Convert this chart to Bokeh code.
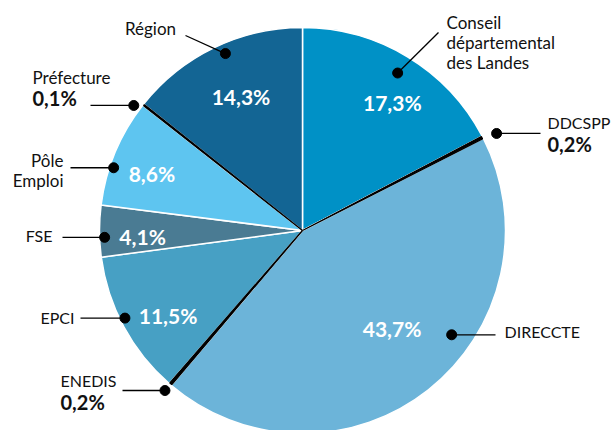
import math
from bokeh.plotting import figure
from bokeh.models import Range1d, ColumnDataSource
from bokeh.embed import file_html
from bokeh.resources import INLINE
from bokeh.core.properties import value

# ---- data ----
names = ["Conseil départemental des Landes", "DDCSPP", "DIRECCTE", "ENEDIS",
         "EPCI", "FSE", "Pôle Emploi", "Préfecture", "Région"]
shares = [17.3, 0.2, 43.7, 0.2, 11.5, 4.1, 8.6, 0.1, 14.3]
colors = ["#0091c6", "#000000", "#6cb4d9", "#000000", "#47a0c4",
          "#4a7b93", "#5ec5f0", "#000000", "#136594"]
pct_labels = ["%s%%" % str(v).replace(".", ",") for v in shares]

# ---- layout (page pixel coordinates) ----
W, H = 611, 430
CX, CY, R = 302, 230, 203
FONT = "Lato"

def Y(py):
    return H - py

def polar(theta_deg, r):
    t = math.radians(theta_deg)
    return CX + r * math.sin(t), CY - r * math.cos(t)

p = figure(width=W, height=H, output_backend="svg", toolbar_location=None,
           x_range=Range1d(0, W), y_range=Range1d(0, H), min_border=0)
p.axis.visible = False
p.grid.visible = False
p.outline_line_color = None
p.background_fill_color = "white"

# wedges
starts, ends, mids = [], [], []
cum = 0.0
for s in shares:
    starts.append(cum * 3.6)
    ends.append((cum + s) * 3.6)
    mids.append((cum + s / 2) * 3.6)
    cum += s

src = ColumnDataSource(dict(
    sa=[math.radians(90 - a) for a in starts],
    ea=[math.radians(90 - a) for a in ends],
    color=colors))
p.wedge(x=CX, y=Y(CY), radius=R, start_angle="sa", end_angle="ea",
        direction="clock", fill_color="color", line_color="white",
        line_width=1.5, source=src)
blk = [i for i, c in enumerate(colors) if c == "#000000"]
for i in blk:
    p.wedge(x=CX, y=Y(CY), radius=R - 1,
            start_angle=math.radians(90 - starts[i]),
            end_angle=math.radians(90 - ends[i]),
            direction="clock", fill_color="black", line_color="black",
            line_width=1.4)

# inside percentage labels: (angle offset, radius)
inner = {0: (4, 156), 2: (-4, 133), 4: (-4, 159), 5: (-2, 160),
         6: (-2, 161), 8: (1, 147)}
for i, (dt, r) in inner.items():
    x, y = polar(mids[i] + dt, r)
    p.text(x=[x], y=[Y(y)], text=[pct_labels[i]], text_color="white",
           text_font=value(FONT), text_font_style="bold",
           text_font_size="21px", text_align="center", text_baseline="middle")

# callout dots: (angle offset, radius) and leader end
dots = {0: (0, 184), 1: (0.8, 217), 2: (-16.7, 182), 3: (0, 211),
        4: (2, 198), 5: (-1.8, 198), 6: (-4.3, 199), 7: (-1.8, 210),
        8: (2.2, 193)}
lead_end = {0: (438, 32), 1: (540, None), 2: (495, None), 3: (122, None),
            4: (80, None), 5: (62, None), 6: (70, None), 7: (90, None),
            8: (185, 35)}
for i, (dt, r) in dots.items():
    x, y = polar(mids[i] + dt, r)
    ex, ey = lead_end[i]
    if ey is None:
        ey = y
    p.line(x=[x, ex], y=[Y(y), Y(ey)], line_color="black", line_width=1.3)
    p.scatter(x=[x], y=[Y(y)], size=10, fill_color="black", line_color="black")

# outside name labels: lines (text, x, y, align, size)
TXT = "#111111"
outer = [
    ("Région", 150, 28, "center", "17px"),
    ("Conseil", 446, 22, "left", "17px"),
    ("départemental", 446, 42, "left", "17px"),
    ("des Landes", 446, 62, "left", "17px"),
    ("DDCSPP", 547, 122, "left", "16px"),
    (pct_labels[1], 547, 143, "left", "B"),
    ("DIRECCTE", 504, 331, "left", "16px"),
    ("ENEDIS", 60, 380, "left", "16px"),
    (pct_labels[3], 60, 401, "left", "B"),
    ("EPCI", 74, 317, "right", "16px"),
    ("FSE", 52, 235, "right", "16px"),
    ("Pôle", 63, 160, "right", "17px"),
    ("Emploi", 63, 180, "right", "17px"),
    ("Préfecture", 32, 77, "left", "17px"),
    (pct_labels[7], 32, 97, "left", "B"),
]
for t, x, y, al, sz in outer:
    bold = sz == "B"
    p.text(x=[x], y=[Y(y)], text=[t], text_color=TXT, text_font=value(FONT),
           text_font_style="bold" if bold else "normal",
           text_font_size="20px" if bold else sz,
           text_align=al, text_baseline="middle")

open("out.html", "w").write(file_html(p, INLINE))
